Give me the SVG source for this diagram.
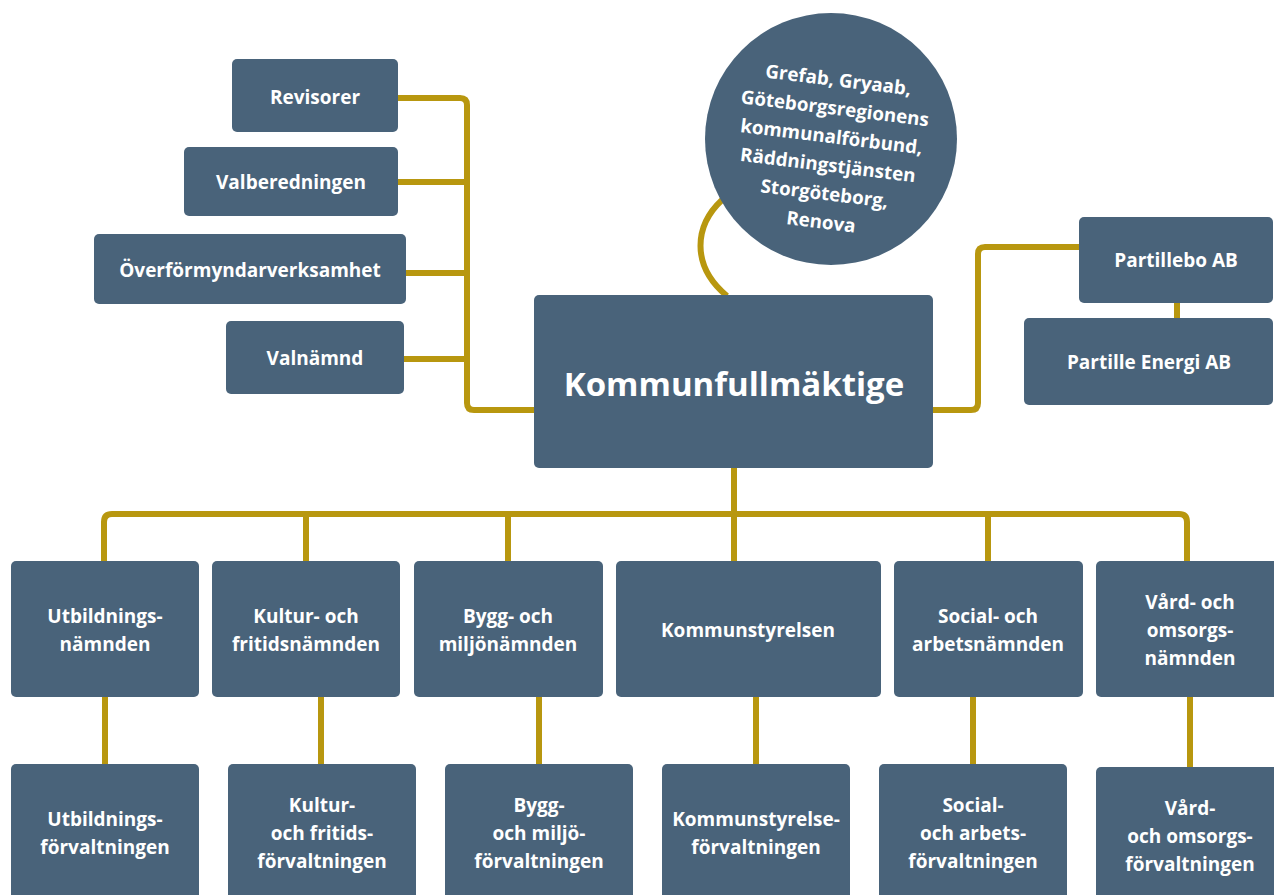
<svg xmlns="http://www.w3.org/2000/svg" width="1274" height="895" viewBox="0 0 1274 895">
  <style>
    .box { fill: #49637A; }
    .line { fill: none; stroke: #B8970F; stroke-width: 6; stroke-linejoin: round; stroke-linecap: butt; }
    .t { font-family: "Open Sans", "Noto Sans", "Liberation Sans", sans-serif; font-weight: 700; font-size: 19px; fill: #FFFFFF; text-anchor: middle; }
    .big { font-size: 33px; }
    .ct { font-size: 18.8px; }
  </style>
  <rect width="1274" height="895" fill="#FFFFFF"/>

  <g id="connectors">
    <path class="line" d="M398 98 H460 Q467 98 467 105 V403 Q467 410 474 410 H534"/>
    <path class="line" d="M398 182 H467"/>
    <path class="line" d="M406 273 H467"/>
    <path class="line" d="M404 359 H467"/>
    <path class="line" d="M722 200 C695 225 690 265 727 296"/>
    <path class="line" d="M933 410 H971 Q978 410 978 403 V254 Q978 247 985 247 H1079"/>
    <path class="line" d="M1177 302 V318"/>
    <path class="line" d="M734 468 V514"/>
    <path class="line" d="M104 561 V522 Q104 514 112 514 H1179 Q1187 514 1187 522 V561"/>
    <path class="line" d="M306 514 V561"/>
    <path class="line" d="M508 514 V561"/>
    <path class="line" d="M734 514 V561"/>
    <path class="line" d="M988 514 V561"/>
    <path class="line" d="M105 696 V764"/>
    <path class="line" d="M321 696 V764"/>
    <path class="line" d="M539 696 V764"/>
    <path class="line" d="M756 696 V764"/>
    <path class="line" d="M973 696 V764"/>
    <path class="line" d="M1190 696 V767"/>
  </g>

  <g id="n-revisorer">
    <rect class="box" x="232" y="59" width="166" height="73" rx="5"/>
    <text class="t" x="315" y="104">Revisorer</text>
  </g>
  <g id="n-valberedningen">
    <rect class="box" x="184" y="147" width="214" height="69" rx="5"/>
    <text class="t" x="291" y="189">Valberedningen</text>
  </g>
  <g id="n-overformyndar">
    <rect class="box" x="94" y="234" width="312" height="70" rx="5"/>
    <text class="t" x="250" y="277">Överförmyndarverksamhet</text>
  </g>
  <g id="n-valnamnd">
    <rect class="box" x="226" y="321" width="178" height="73" rx="5"/>
    <text class="t" x="315" y="365">Valnämnd</text>
  </g>

  <g id="n-bolag">
    <circle class="box" cx="831" cy="139" r="126"/>
    <g transform="rotate(7 831 140)">
      <text class="t ct" x="831" y="86">Grefab, Gryaab,</text>
      <text class="t ct" x="831" y="114.6">Göteborgsregionens</text>
      <text class="t ct" x="831" y="143.2">kommunalförbund,</text>
      <text class="t ct" x="831" y="171.8">Räddningstjänsten</text>
      <text class="t ct" x="831" y="200.4">Storgöteborg,</text>
      <text class="t ct" x="831" y="229">Renova</text>
    </g>
  </g>

  <g id="n-kf">
    <rect class="box" x="534" y="295" width="399" height="173" rx="5"/>
    <text class="t big" x="734" y="396">Kommunfullmäktige</text>
  </g>

  <g id="n-partillebo">
    <rect class="box" x="1079" y="217" width="194" height="86" rx="5"/>
    <text class="t" x="1176" y="267">Partillebo AB</text>
  </g>
  <g id="n-partilleenergi">
    <rect class="box" x="1024" y="318" width="249" height="87" rx="5"/>
    <text class="t" x="1149" y="369">Partille Energi AB</text>
  </g>

  <g id="n-utbildningsnamnden">
    <rect class="box" x="11" y="561" width="188" height="136" rx="5"/>
    <text class="t" x="105" y="623">Utbildnings-</text>
    <text class="t" x="105" y="651">nämnden</text>
  </g>
  <g id="n-kulturnamnden">
    <rect class="box" x="212" y="561" width="188" height="136" rx="5"/>
    <text class="t" x="306" y="623">Kultur- och</text>
    <text class="t" x="306" y="651">fritidsnämnden</text>
  </g>
  <g id="n-byggnamnden">
    <rect class="box" x="414" y="561" width="189" height="136" rx="5"/>
    <text class="t" x="508" y="623">Bygg- och</text>
    <text class="t" x="508" y="651">miljönämnden</text>
  </g>
  <g id="n-kommunstyrelsen">
    <rect class="box" x="616" y="561" width="265" height="136" rx="5"/>
    <text class="t" x="748" y="637">Kommunstyrelsen</text>
  </g>
  <g id="n-socialnamnden">
    <rect class="box" x="894" y="561" width="189" height="136" rx="5"/>
    <text class="t" x="988" y="623">Social- och</text>
    <text class="t" x="988" y="651">arbetsnämnden</text>
  </g>
  <g id="n-vardnamnden">
    <rect class="box" x="1096" y="561" width="190" height="136" rx="5"/>
    <text class="t" x="1190" y="609">Vård- och</text>
    <text class="t" x="1190" y="637">omsorgs-</text>
    <text class="t" x="1190" y="665">nämnden</text>
  </g>

  <g id="n-utbildningsforv">
    <rect class="box" x="11" y="764" width="188" height="140" rx="5"/>
    <text class="t" x="105" y="826">Utbildnings-</text>
    <text class="t" x="105" y="854">förvaltningen</text>
  </g>
  <g id="n-kulturforv">
    <rect class="box" x="228" y="764" width="188" height="140" rx="5"/>
    <text class="t" x="322" y="812">Kultur-</text>
    <text class="t" x="322" y="840">och fritids-</text>
    <text class="t" x="322" y="868">förvaltningen</text>
  </g>
  <g id="n-byggforv">
    <rect class="box" x="445" y="764" width="188" height="140" rx="5"/>
    <text class="t" x="539" y="812">Bygg-</text>
    <text class="t" x="539" y="840">och miljö-</text>
    <text class="t" x="539" y="868">förvaltningen</text>
  </g>
  <g id="n-ksforv">
    <rect class="box" x="662" y="764" width="188" height="140" rx="5"/>
    <text class="t" x="756" y="826">Kommunstyrelse-</text>
    <text class="t" x="756" y="854">förvaltningen</text>
  </g>
  <g id="n-socialforv">
    <rect class="box" x="879" y="764" width="188" height="140" rx="5"/>
    <text class="t" x="973" y="812">Social-</text>
    <text class="t" x="973" y="840">och arbets-</text>
    <text class="t" x="973" y="868">förvaltningen</text>
  </g>
  <g id="n-vardforv">
    <rect class="box" x="1096" y="767" width="190" height="140" rx="5"/>
    <text class="t" x="1190" y="815">Vård-</text>
    <text class="t" x="1190" y="843">och omsorgs-</text>
    <text class="t" x="1190" y="871">förvaltningen</text>
  </g>
</svg>
